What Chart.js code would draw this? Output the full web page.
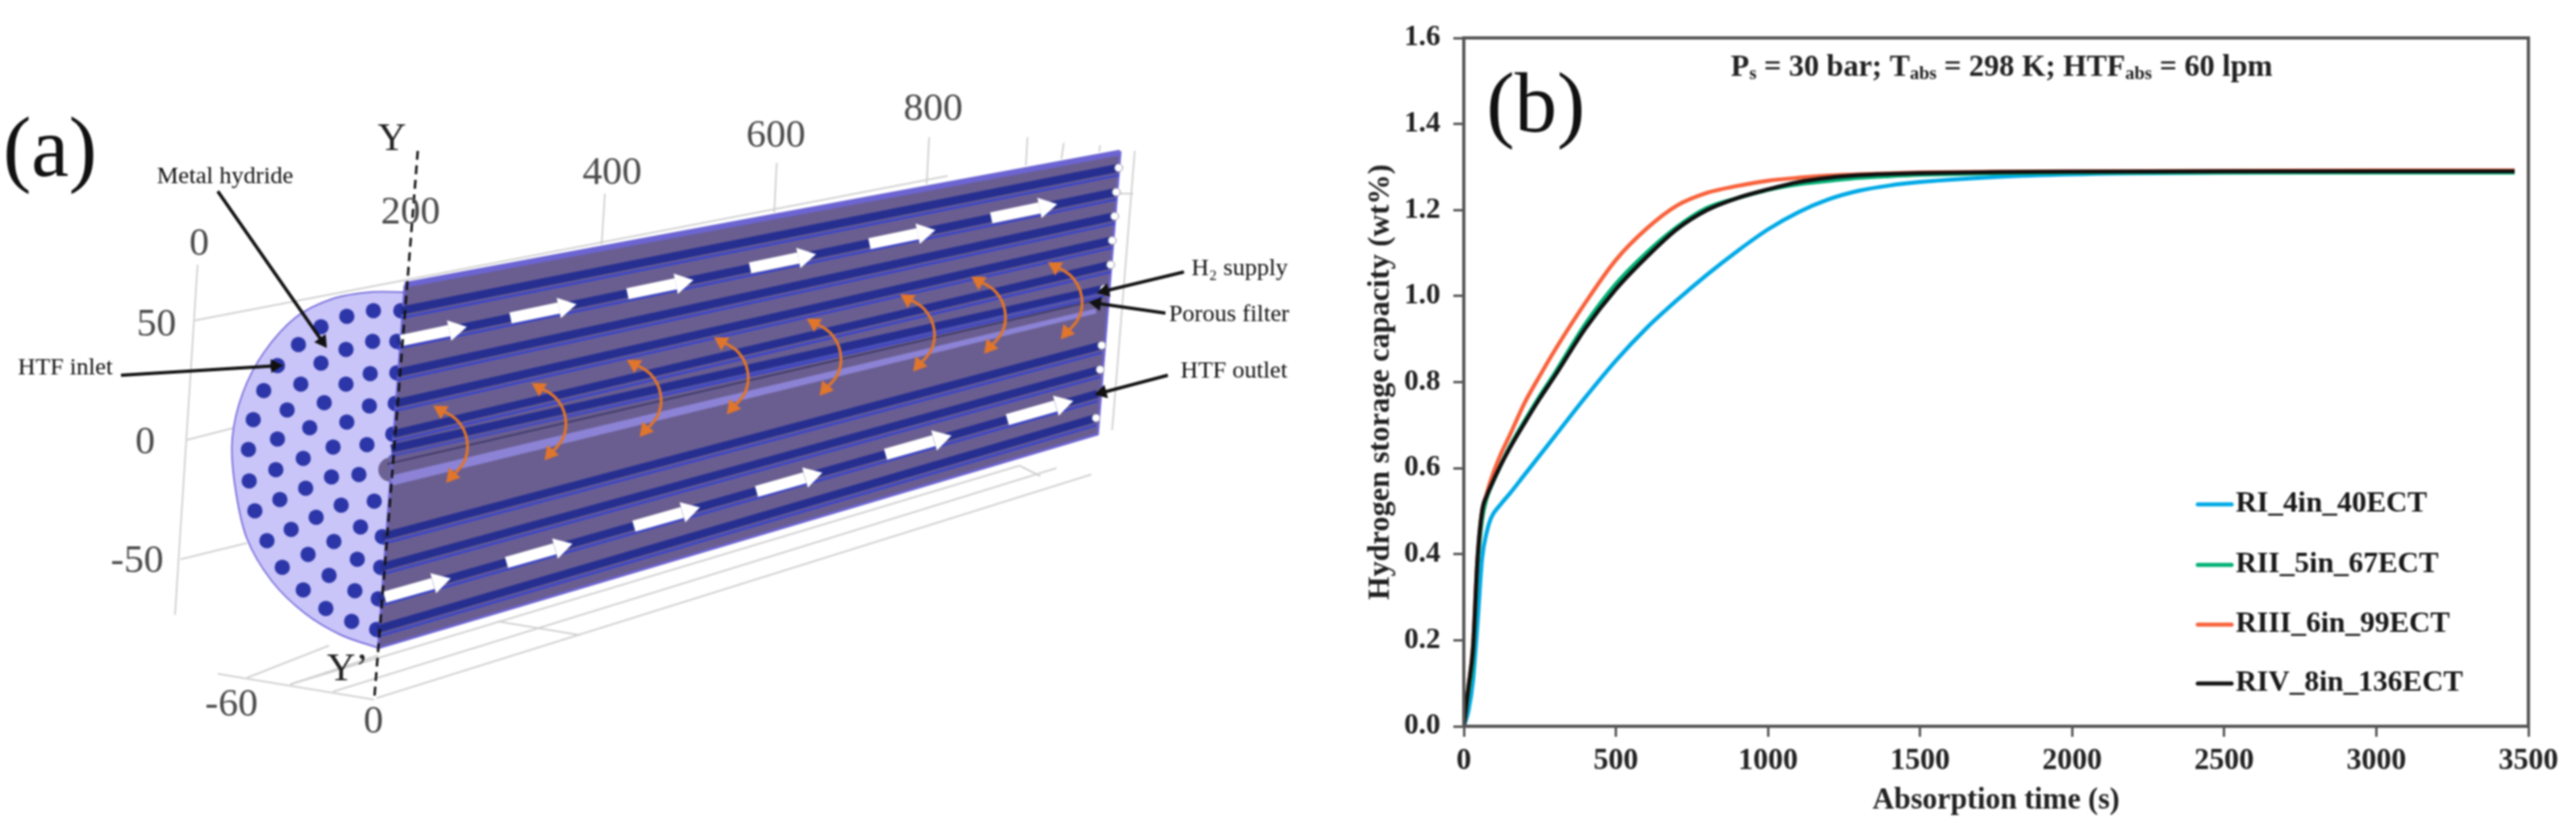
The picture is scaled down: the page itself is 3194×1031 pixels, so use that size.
<!DOCTYPE html>
<html>
<head>
<meta charset="utf-8">
<title>Hydride bed and absorption curves</title>
<script src="https://cdn.jsdelivr.net/npm/chart.js@4/dist/chart.umd.min.js"></script>
<style>
html,body{margin:0;padding:0;background:#fff;}
#wrap{position:relative;width:3194px;height:1031px;overflow:hidden;}
canvas{position:absolute;top:0;filter:blur(0.9px);}
#diagram{left:0;}
#chart{left:1640px;}
</style>
</head>
<body>
<div id="wrap">
<canvas id="diagram" width="1640" height="1031"></canvas>
<canvas id="chart" width="1554" height="1031"></canvas>
</div>
<script>
// panel b data
const seriesNames = ['RI_4in_40ECT', 'RII_5in_67ECT', 'RIII_6in_99ECT', 'RIV_8in_136ECT'];
const timeS = [0,15,30,45,60,75,90,120,150,200,250,300,400,500,600,700,800,900,1000,1100,1200,1300,1400,1500,1750,2000,2500,3000,3455];
const capRI = [0,.035,.105,.24,.39,.45,.485,.515,.54,.585,.63,.675,.765,.85,.925,.99,1.05,1.105,1.155,1.195,1.225,1.245,1.257,1.265,1.277,1.283,1.287,1.288,1.288];
const capRII = [0,.075,.16,.37,.48,.53,.558,.605,.648,.71,.768,.822,.935,1.028,1.1,1.16,1.205,1.228,1.247,1.26,1.268,1.275,1.279,1.282,1.286,1.287,1.287,1.287,1.287];
const capRIII = [0,.09,.185,.39,.5,.54,.575,.63,.675,.752,.815,.875,.985,1.084,1.156,1.21,1.24,1.256,1.268,1.275,1.28,1.283,1.285,1.287,1.289,1.29,1.291,1.292,1.292];
const capRIV = [0,.09,.18,.39,.5,.535,.56,.605,.645,.705,.762,.815,.925,1.016,1.09,1.155,1.2,1.228,1.248,1.265,1.275,1.281,1.284,1.286,1.288,1.289,1.29,1.29,1.29];
const seriesColors = ['#00a9e6', '#00b074', '#f8623c', '#111111'];
const xTickLabels = ['0','500','1000','1500','2000','2500','3000','3500'];
const yTickLabels = ['0.0','0.2','0.4','0.6','0.8','1.0','1.2','1.4','1.6'];
const condition = [['P',0],['s',1],[' = 30 bar; T',0],['abs',1],[' = 298 K; HTF',0],['abs',1],[' = 60 lpm',0]];

// panel a geometry, in the diagram chart's own scale units
const greyLines = [
  [[242,397],[1175,218]], [[245,328],[217,762]], [[750,240],[746,303]], [[963,202],[960,263]],
  [[1152,170],[1149,228]], [[1274,170],[1272,205]], [[1319,177],[1316,197]], [[1364,180],[1363,188]],
  [[232,545],[291,530]], [[224,693],[306,673]], [[1407,187],[1379,533]], [[1384,240],[1405,240]],
  [[270,835],[464,867]], [[306,840],[408,800]], [[360,848],[469,812]], [[413,857],[1310,580]],
  [[467,865],[1353,588]], [[360,848],[1264,577]], [[617,770],[719,787]], [[1264,577],[1290,590]]
];
const discOutline = [[502,362],[459,362],[413,370],[367,393],[327,437],[301,487],[288,543],[291,600],[306,667],[337,720],[378,760],[423,787],[469,803]];
const bodyOutline = [[502,353],[1389,189],[1361,538],[469,803]];
const discHoles = [[463,385],[430,392],[398,405],[462,423],[429,433],[370,427],[398,450],[459,463],[344,453],[373,476],[429,476],[327,484],[402,499],[458,503],[356,508],
  [314,520],[430,523],[384,530],[344,544],[308,557],[413,554],[455,551],[376,568],[342,582],[309,596],[411,591],[445,588],[379,605],[347,619],[316,633],[423,626],[464,621],
  [392,641],[361,656],[447,653],[331,670],[414,671],[382,687],[443,693],[350,703],[408,713],[376,731],[440,732],[404,754],[436,770],
  [497,385],[492,423],[492,462],[490,500],[487,538],[474,665],[472,703],[469,742],[467,780]];
const tubes = [
  [[497,385],[1387,208]], [[492,423],[1384,238]], [[492,462],[1382,268]], [[490,500],[1379,298]],
  [[487,538],[1377,328]], [[485,556],[1369,358]], [[474,665],[1366,428]], [[472,703],[1364,458]],
  [[469,742],[1361,488]], [[467,780],[1359,518]]
];
const tubeEnds = [[1387,208],[1384,238],[1382,268],[1379,298],[1377,328],[1369,358],[1366,428],[1364,458],[1359,518]];
const filterBand = [[484,590],[1358,383],[1359,388],[487,601]];
const filterLines = [[[480,575],[1360,372]], [[482,566],[1362,364]]];
const topArrows = [[497,422],[633,394],[778,364],[930,332],[1078,302],[1229,270]];
const bottomArrows = [[477,740],[628,697],[786,652],[938,609],[1098,563],[1249,520]];
const arcTops = [[541,505],[663,477],[781,448],[889,420],[1004,397],[1120,367],[1208,345],[1303,327]];
const arcShape = [[0,0],[26,16],[38,40],[35,66],[15,90]];
const yLine = [[518,187],[464,867]];
const pointers = [
  [[270,237],[403,428]], [[150,465],[347,453]], [[1468,337],[1364,362]],
  [[1445,388],[1354,375]], [[1448,465],[1361,488]]
];
const bigLabels = [['(a)',62,190,105,'#111']];
const axisLabels = [['Y',486,173],['200',509,264],['400',759,215],['600',962,169],['800',1157,136],['0',247,303],['50',194,403],['0',180,549],['-50',170,696],['-60',287,874],['0',463,895],['Y’',431,830]];
const partLabels = [['Metal hydride',279,219],['HTF inlet',81,456],['H₂ supply',1537,333],['Porous filter',1524,390],['HTF outlet',1530,460]];

const xy = pts => pts.map(p => ({x: p[0], y: p[1]}));
const diagramSets = [];
function path(pts, color, width, extra){
    diagramSets.push(Object.assign({data: xy(pts), showLine: true, borderColor: color, borderWidth: width, pointRadius: 0, backgroundColor: color}, extra || {}));
}
function blob(pts, color, radius, extra){
    diagramSets.push(Object.assign({data: xy(pts), showLine: false, pointRadius: radius, pointBackgroundColor: color, pointBorderWidth: 0}, extra || {}));
}
// triangle marker whose tip ends at "to"
function head(from, to, color, radius){
    const dx = to[0]-from[0], dy = to[1]-from[1], len = Math.hypot(dx,dy);
    const c = [to[0]-dx/len*radius*0.6, to[1]-dy/len*radius*0.6];
    blob([c], color, radius, {pointStyle: 'triangle', pointRotation: Math.atan2(dx,-dy)*180/Math.PI});
}

greyLines.forEach(l => path(l, '#cfcfcf', 2));
path(discOutline, '#7a70dc', 2, {fill: 'shape', backgroundColor: '#c9c5f9', tension: 0.3});
blob(discHoles, '#2c36a8', 9.5);
blob([[484,582]], '#6d6392', 15);
path(bodyOutline.concat([bodyOutline[0]]), '#6c64d2', 3, {fill: 'shape', backgroundColor: '#6a5e90'});
tubes.forEach(t => {
    path(t, '#262f90', 10);
    path(t.map(p => [p[0], p[1]+9]), '#3d46c6', 3);
});
path([bodyOutline[0], bodyOutline[1]], '#6c64d2', 7);
path(filterBand.concat([filterBand[0]]), '#8c83d6', 1, {fill: 'shape', backgroundColor: '#8c83d6'});
filterLines.forEach((l, i) => path(l, i ? '#4a50b8' : '#3f3a66', 2));
tubeEnds.forEach(p => blob([p], '#ffffff', 5, {pointBorderWidth: 1, pointBorderColor: '#8a8aa0'}));
arcTops.forEach(top => {
    const arc = arcShape.map(o => [top[0]+o[0], top[1]+o[1]]);
    path(arc, '#e0752c', 3.5, {tension: 0.4});
    head(arc[1], arc[0], '#e0752c', 11);
    head(arc[3], arc[4], '#e0752c', 11);
});
function whiteArrow(start, slope){
    const tip = [start[0]+76, start[1]+76*slope];
    const neck = [start[0]+60, start[1]+60*slope];
    path([start, neck], '#ffffff', 14);
    head(neck, tip, '#ffffff', 15);
}
topArrows.forEach(s => whiteArrow(s, -0.207));
bottomArrows.forEach(s => whiteArrow(s, -0.285));
path(yLine, '#111111', 3, {borderDash: [11,7]});
pointers.forEach(p => {
    path(p, '#111111', 4);
    head(p[0], p[1], '#111111', 10);
});
diagramSets.forEach((d, i) => { d.order = diagramSets.length - i; });

const diagramText = {
    id: 'diagramText',
    afterDraw(chart){
        const c = chart.ctx, sx = chart.scales.x, sy = chart.scales.y;
        c.save();
        c.textAlign = 'center';
        c.textBaseline = 'middle';
        const put = (t, x, y, size, color) => {
            c.font = size + 'px "Liberation Serif"';
            c.fillStyle = color;
            c.fillText(t, sx.getPixelForValue(x), sy.getPixelForValue(y));
        };
        bigLabels.forEach(l => put(l[0], l[1], l[2], l[3], l[4]));
        axisLabels.forEach(l => put(l[0], l[1], l[2], 49, l[0][0] === 'Y' ? '#222' : '#4a4a4a'));
        partLabels.forEach(l => put(l[0], l[1], l[2], 30, '#111'));
        c.restore();
    }
};

new Chart(document.querySelector('#diagram'), {
    type: 'scatter',
    data: {datasets: diagramSets},
    options: {
        responsive: false,
        animation: false,
        events: [],
        layout: {padding: 0, autoPadding: false},
        plugins: {legend: {display: false}, tooltip: {enabled: false}},
        scales: {
            x: {type: 'linear', min: 0, max: 1640, display: false},
            y: {type: 'linear', min: 0, max: 1031, reverse: true, display: false}
        }
    },
    plugins: [diagramText]
});

const serif = {family: '"Liberation Serif"', weight: 'bold'};
const capSeries = [capRI, capRII, capRIII, capRIV];

const chartExtras = {
    id: 'chartExtras',
    afterDraw(chart){
        const c = chart.ctx, a = chart.chartArea;
        c.save();
        // box round the plot
        c.strokeStyle = '#555';
        c.lineWidth = 4;
        c.strokeRect(a.left, a.top, a.right-a.left, a.bottom-a.top);
        // (b)
        c.fillStyle = '#111';
        c.textBaseline = 'middle';
        c.textAlign = 'left';
        c.font = '105px "Liberation Serif"';
        c.fillText('(b)', 203, 135);
        // conditions line with subscripts
        let x = 506;
        condition.forEach(run => {
            c.font = 'bold ' + (run[1] ? 23 : 37.5) + 'px "Liberation Serif"';
            c.fillStyle = '#222';
            c.fillText(run[0], x, run[1] ? 92 : 84);
            x += c.measureText(run[0]).width;
        });
        // legend
        const legendY = [625, 700, 774, 847];
        chart.data.datasets.forEach((d, i) => {
            c.strokeStyle = d.borderColor;
            c.lineWidth = 5;
            c.lineCap = 'round';
            c.beginPath();
            c.moveTo(1085, legendY[i]);
            c.lineTo(1127, legendY[i]);
            c.stroke();
            c.font = 'bold 36.5px "Liberation Serif"';
            c.fillStyle = '#1a1a1a';
            c.fillText(d.label, 1132, legendY[i]);
        });
        c.restore();
    }
};

new Chart(document.querySelector('#chart'), {
    type: 'scatter',
    data: {
        datasets: capSeries.map((vals, i) => ({
            label: seriesNames[i],
            data: vals.map((v, j) => ({x: timeS[j], y: v})),
            showLine: true,
            borderColor: seriesColors[i],
            backgroundColor: seriesColors[i],
            borderWidth: 5,
            pointRadius: 0,
            cubicInterpolationMode: 'monotone',
            order: capSeries.length - i
        }))
    },
    options: {
        responsive: false,
        animation: false,
        events: [],
        layout: {padding: {left: 0, top: 47, right: 59, bottom: 0}, autoPadding: false},
        plugins: {legend: {display: false}, tooltip: {enabled: false}},
        scales: {
            x: {
                type: 'linear', min: 0, max: 3500,
                afterFit: s => { s.height = 131; },
                border: {color: '#555', width: 4},
                grid: {drawOnChartArea: false, tickLength: 13, tickWidth: 3, tickColor: '#555'},
                ticks: {
                    stepSize: 500, maxRotation: 0, padding: 8, color: '#222',
                    font: Object.assign({size: 37}, serif),
                    callback: (v, i) => xTickLabels[i]
                },
                title: {display: true, text: 'Absorption time (s)', color: '#222', padding: {top: 0, bottom: 16}, font: Object.assign({size: 37}, serif)}
            },
            y: {
                type: 'linear', min: 0, max: 1.6,
                afterFit: s => { s.width = 175; },
                border: {color: '#555', width: 4},
                grid: {drawOnChartArea: false, tickLength: 13, tickWidth: 3, tickColor: '#555'},
                ticks: {
                    stepSize: 0.2, padding: 16, color: '#222',
                    font: Object.assign({size: 36}, serif),
                    callback: (v, i) => yTickLabels[i]
                },
                title: {display: true, text: 'Hydrogen storage capacity (wt%)', color: '#222', padding: {top: 50, bottom: 0}, font: Object.assign({size: 37.5}, serif)}
            }
        }
    },
    plugins: [chartExtras]
});
</script>
</body>
</html>
